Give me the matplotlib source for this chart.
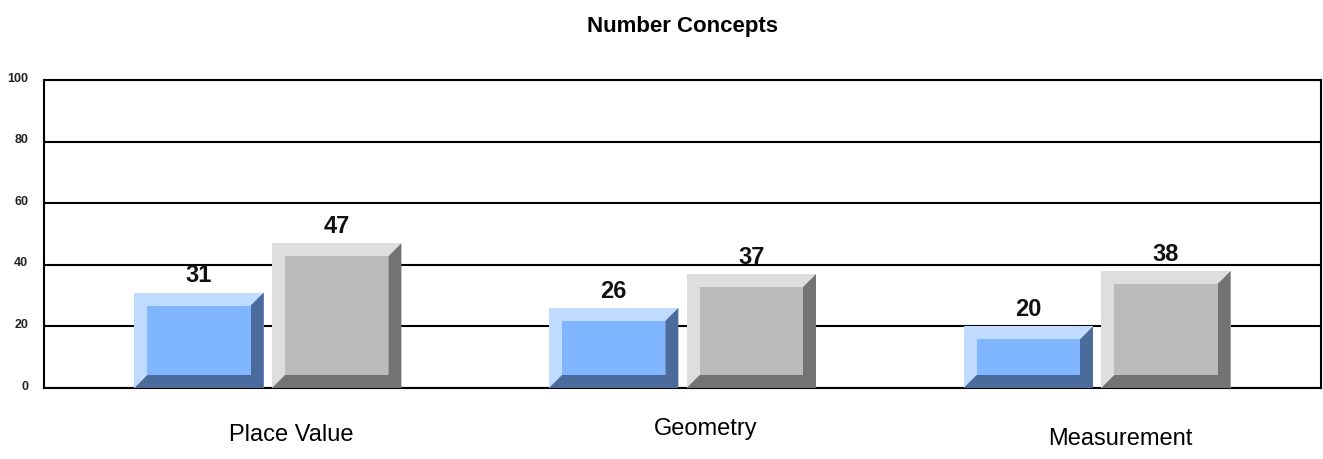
import numpy as np
import matplotlib
matplotlib.use("Agg")
import matplotlib.pyplot as plt
from matplotlib.patches import Polygon, Rectangle
from matplotlib.transforms import ScaledTranslation, blended_transform_factory

# ── Data ──────────────────────────────────────────────────────
categories  = ["Place Value", "Geometry", "Measurement"]
blue_values = [31, 26, 20]
gray_values = [47, 37, 38]
y_ticks     = [0, 20, 40, 60, 80, 100]

# ── Styling ───────────────────────────────────────────────────
BLUE = {"light": "#bfdbff", "face": "#80b5ff", "dark": "#4a6b9b"}
GRAY = {"light": "#dedede", "face": "#bbbbbb", "dark": "#737373"}
FONT = ["Liberation Sans", "DejaVu Sans"]

W, H, DPI = 1323, 459, 100
fig = plt.figure(figsize=(W / DPI, H / DPI), dpi=DPI)
ax = fig.add_axes([44 / W, 71 / H, 1277 / W, 308 / H])

ax.set_xlim(-0.54, 2.54)
ax.set_ylim(0, 100)

x = np.arange(len(categories))
width = 0.312
offset = 0.166

# bevel thickness in data units (~13 px each way)
bev_x = 13 / (1277 / 3.08)
bev_y = 13 / 3.08


def bevel_bar(xc, value, col):
    # outer (light) face via the library's bar
    bar = ax.bar(xc, value, width, color=col["light"], zorder=3, linewidth=0)[0]
    x0, x1 = bar.get_x(), bar.get_x() + bar.get_width()
    y0, y1 = 0, value
    # dark bottom + right edge
    dark = Polygon([(x0, y0), (x1, y0), (x1, y1), (x1 - bev_x, y1 - bev_y),
                    (x1 - bev_x, y0 + bev_y), (x0 + bev_x, y0 + bev_y)],
                   closed=True, facecolor=col["dark"], edgecolor="none", zorder=4)
    ax.add_patch(dark)
    inner = Rectangle((x0 + bev_x, y0 + bev_y), (x1 - x0) - 2 * bev_x,
                      (y1 - y0) - 2 * bev_y, facecolor=col["face"],
                      edgecolor="none", zorder=5)
    ax.add_patch(inner)
    ax.annotate(f"{value}", (xc, value), xytext=(0, 7.5), textcoords="offset points",
                ha="center", va="baseline", fontsize=17, fontweight="bold",
                family=FONT, color="#111111", zorder=6)


for i in range(len(categories)):
    bevel_bar(x[i] - offset, blue_values[i], BLUE)
    bevel_bar(x[i] + offset, gray_values[i], GRAY)

# ── Axes / grid ───────────────────────────────────────────────
ax.set_yticks(y_ticks)
ax.set_yticklabels([str(t) for t in y_ticks], fontsize=9, fontweight="bold",
                   family=FONT, color="#222222")
ax.tick_params(axis="y", length=0, pad=11.5)
ax.set_xticks([])
ax.yaxis.grid(True, color="black", linewidth=1.5)
ax.set_axisbelow(True)
for s in ax.spines.values():
    s.set_color("black")
    s.set_linewidth(1.5)

shift = ScaledTranslation(0, 3 / DPI, fig.dpi_scale_trans)
for lbl in ax.get_yticklabels():
    lbl.set_transform(lbl.get_transform() + shift)

# category labels sit a little right of the group and at uneven heights
trans = blended_transform_factory(ax.transData, ax.transAxes)
label_dx = 0.056
label_y = [-0.172, -0.153, -0.185]
for i, name in enumerate(categories):
    ax.text(x[i] + label_dx, label_y[i], name, transform=trans, ha="center",
            va="baseline", fontsize=17, family=FONT, color="black")

ax.text(0.5, 1.156, "Number Concepts", transform=ax.transAxes, ha="center",
        va="baseline", fontsize=16, fontweight="bold", family=FONT)

fig.savefig("out.png", dpi=DPI)
